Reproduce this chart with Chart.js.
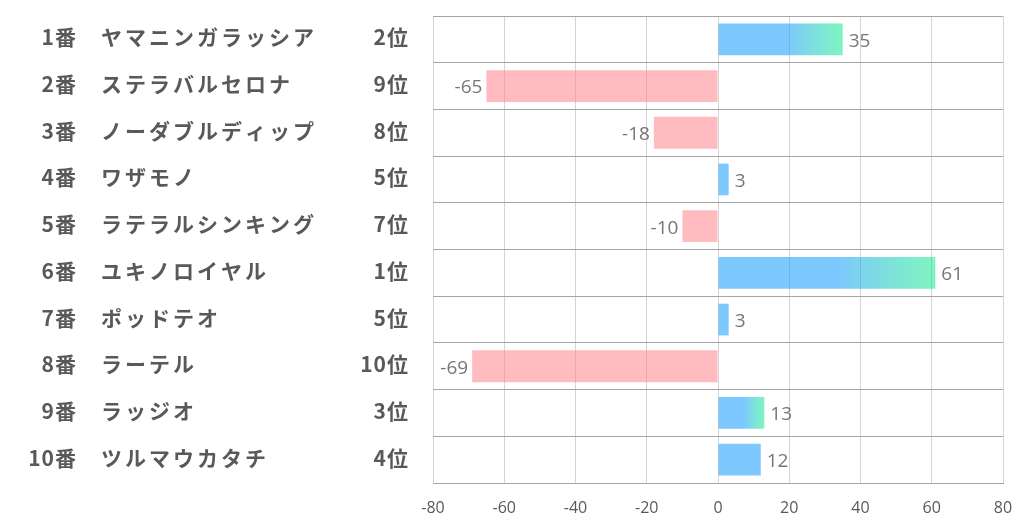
<!DOCTYPE html>
<html>
<head>
<meta charset="utf-8">
<script src="https://cdn.jsdelivr.net/npm/chart.js@4.4.0/dist/chart.umd.min.js"></script>
<style>
    html, body { margin: 0; padding: 0; background: #fff; }
    #wrap { width: 1022px; height: 522px; }
</style>
</head>
<body>
<div id="wrap"><canvas id="rankChart"></canvas></div>
<script>
// Data
const numbers = ['1番', '2番', '3番', '4番', '5番', '6番', '7番', '8番', '9番', '10番'];
const horses = ['ヤマニンガラッシア', 'ステラバルセロナ', 'ノーダブルディップ', 'ワザモノ', 'ラテラルシンキング',
    'ユキノロイヤル', 'ポッドテオ', 'ラーテル', 'ラッジオ', 'ツルマウカタチ'];
const ranks = ['2位', '9位', '8位', '5位', '7位', '1位', '5位', '10位', '3位', '4位'];
const values = [35, -65, -18, 3, -10, 61, 3, -69, 13, 12];
const xTicks = [-80, -60, -40, -20, 0, 20, 40, 60, 80];

const BLUE = 'rgba(30, 160, 255, 0.58)';
const GREEN = 'rgba(0, 235, 130, 0.5)';
const PINK = 'rgba(255, 120, 130, 0.5)';
const LABEL_FONT = 'bold 21px "Noto Sans CJK JP", sans-serif';

// top three get the blue->green fade at the bar end
function barColor(context) {
    const i = context.dataIndex;
    const v = values[i];
    if (v < 0) return PINK;
    const place = parseInt(ranks[i], 10);
    const x = context.chart.scales.x;
    if (place > 3 || !x || !context.chart.chartArea) return BLUE;
    const x0 = x.getPixelForValue(0);
    const x1 = x.getPixelForValue(v);
    const g = context.chart.ctx.createLinearGradient(x0, 0, x1, 0);
    g.addColorStop(0, BLUE);
    g.addColorStop(0.55, BLUE);
    g.addColorStop(1, GREEN);
    return g;
}

// left side text: number, name, rank
const sideLabels = {
    id: 'sideLabels',
    afterDraw(chart) {
        const ctx = chart.ctx;
        const y = chart.scales.y;
        ctx.save();
        ctx.font = LABEL_FONT;
        ctx.fillStyle = '#595959';
        ctx.textBaseline = 'middle';
        numbers.forEach((n, i) => {
            const py = y.getPixelForValue(i) - 2;
            ctx.letterSpacing = '1px';
            ctx.textAlign = 'right';
            ctx.fillText(n, 77, py);
            ctx.fillText(ranks[i], 409, py);
            ctx.letterSpacing = '3px';
            ctx.textAlign = 'left';
            ctx.fillText(horses[i], 101, py);
        });
        ctx.letterSpacing = '0px';
        ctx.restore();
    }
};

// value text at the end of each bar
const valueLabels = {
    id: 'valueLabels',
    afterDatasetsDraw(chart) {
        const ctx = chart.ctx;
        const meta = chart.getDatasetMeta(0);
        ctx.save();
        ctx.font = '19px "Open Sans", sans-serif';
        ctx.fillStyle = '#767676';
        ctx.textBaseline = 'middle';
        meta.data.forEach((bar, i) => {
            const v = values[i];
            if (v >= 0) {
                ctx.textAlign = 'left';
                ctx.fillText(String(v), bar.x + 6, bar.y + 2);
            } else {
                ctx.textAlign = 'right';
                ctx.fillText(String(v), bar.x - 4, bar.y + 2);
            }
        });
        ctx.restore();
    }
};

new Chart(document.getElementById('rankChart'), {
    type: 'bar',
    data: {
        labels: horses,
        datasets: [{
            data: values,
            backgroundColor: barColor,
            borderWidth: 0,
            categoryPercentage: 1,
            barPercentage: 0.68
        }]
    },
    options: {
        indexAxis: 'y',
        responsive: true,
        maintainAspectRatio: false,
        animation: false,
        layout: {
            padding: { left: 433, right: 19, top: 16, bottom: 0 }
        },
        plugins: {
            legend: { display: false },
            tooltip: { enabled: false }
        },
        scales: {
            x: {
                min: -80,
                max: 80,
                afterBuildTicks: (scale) => {
                    scale.ticks = xTicks.map(v => ({ value: v }));
                },
                afterFit: (scale) => {
                    scale.height = 39;
                    scale.paddingLeft = 0;
                    scale.paddingRight = 0;
                },
                grid: { color: '#d4d4d4', lineWidth: 1, drawTicks: false },
                border: { color: '#a6a6a6' },
                ticks: {
                    color: '#595959',
                    font: { family: '"Open Sans", sans-serif', size: 16 },
                    padding: 16
                }
            },
            y: {
                grid: { color: '#a6a6a6', lineWidth: 1, drawTicks: false },
                border: { display: false },
                ticks: { display: false }
            }
        }
    },
    plugins: [sideLabels, valueLabels]
});
</script>
</body>
</html>
